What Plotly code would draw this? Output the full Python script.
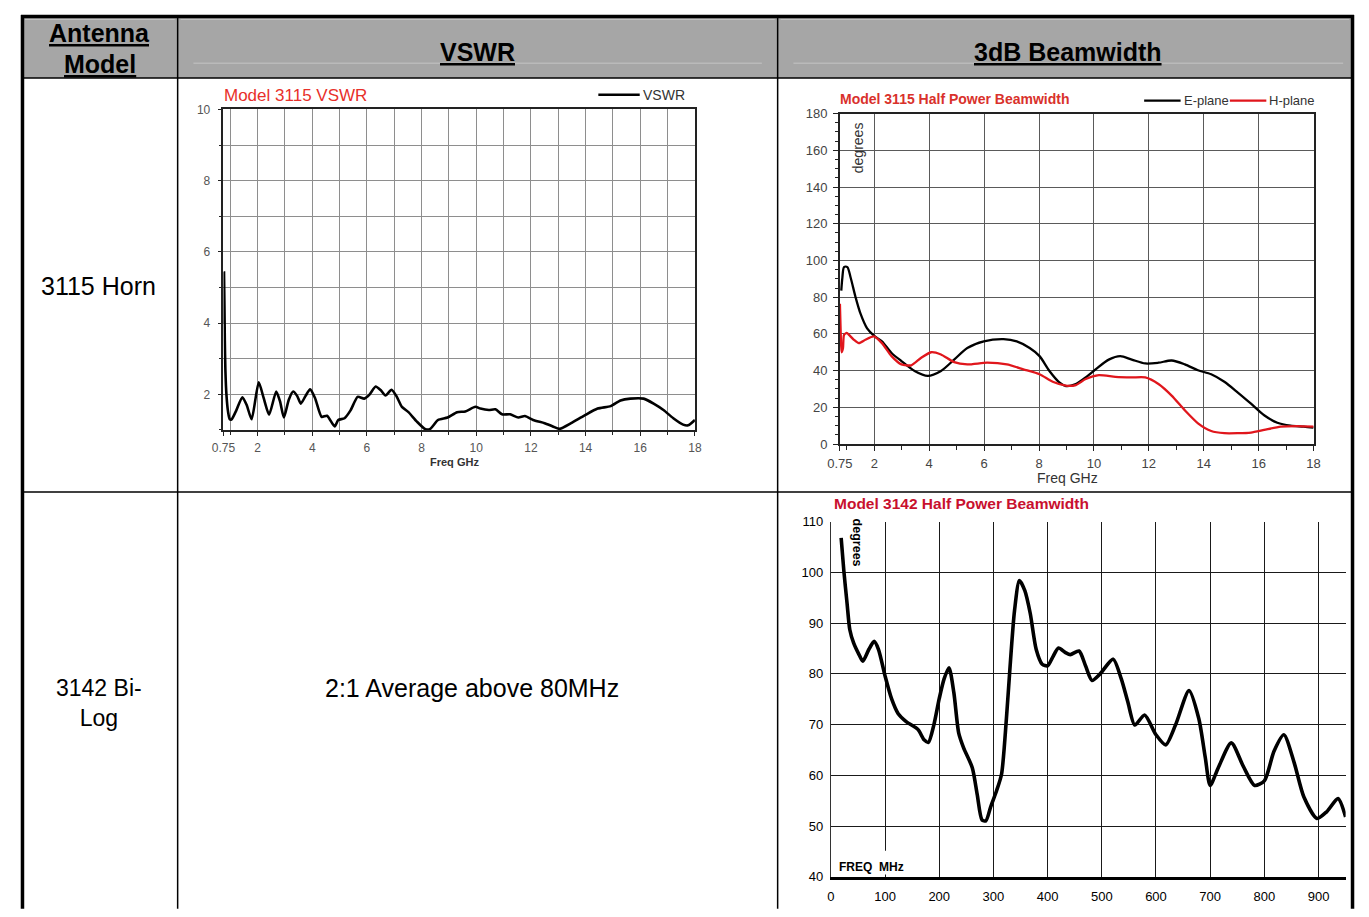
import plotly.graph_objects as go

# page is rendered with the browser's default 8px body margin
OFF = 8
W, H = 1369 - 2 * OFF, 917 - 2 * OFF
FONT = "Liberation Sans, Arial, sans-serif"

def px(x):
    return (x - OFF) / W

def py(y):
    return 1 - (y - OFF) / H

# ---------------- data ----------------
# Model 3115 VSWR
vswr_freq = [0.75, 0.77, 0.80, 0.82, 0.86, 0.92, 0.98, 1.05, 1.22, 1.44, 1.60, 1.78, 2.04, 2.22, 2.42,
             2.68, 2.82, 2.96, 3.14, 3.30, 3.45, 3.58, 3.75, 3.92, 4.10, 4.34, 4.54, 4.82, 4.95, 5.18,
             5.40, 5.66, 5.90, 6.10, 6.32, 6.50, 6.68, 6.90, 7.08, 7.28, 7.52, 7.82, 8.12, 8.30, 8.60,
             8.95, 9.30, 9.60, 9.97, 10.15, 10.46, 10.70, 10.94, 11.24, 11.54, 11.78, 12.08, 12.50,
             12.80, 13.05, 13.47, 13.95, 14.44, 14.92, 15.28, 15.64, 16.12, 16.49, 16.85, 17.21,
             17.57, 17.75, 18.0]
vswr_val = [4.0, 5.42, 3.5, 2.7, 1.98, 1.5, 1.3, 1.3, 1.55, 1.92, 1.7, 1.3, 2.34, 1.9, 1.43,
            2.08, 1.8, 1.35, 1.85, 2.08, 1.95, 1.74, 1.95, 2.14, 1.9, 1.37, 1.4, 1.1, 1.28, 1.33,
            1.55, 1.93, 1.88, 2.0, 2.22, 2.12, 1.97, 2.13, 1.95, 1.65, 1.5, 1.24, 1.03, 1.02, 1.28,
            1.35, 1.5, 1.52, 1.65, 1.6, 1.56, 1.58, 1.44, 1.44, 1.35, 1.39, 1.28, 1.19,
            1.10, 1.03, 1.19, 1.40, 1.6, 1.67, 1.83, 1.88, 1.88, 1.74, 1.56, 1.33,
            1.15, 1.13, 1.28]
vswr_xticks = [0.75, 2, 4, 6, 8, 10, 12, 14, 16, 18]
vswr_xtext = ["0.75", "2", "4", "6", "8", "10", "12", "14", "16", "18"]
vswr_yticks = [2, 4, 6, 8, 10]

# Model 3115 half power beamwidth
e_freq = [0.8, 0.84, 0.9, 1.02, 1.14, 1.32, 1.5, 1.74, 2.0, 2.28, 2.63, 2.99, 3.47, 3.95, 4.43,
          4.91, 5.39, 5.99, 6.71, 7.19, 7.66, 8.02, 8.38, 8.74, 8.98, 9.34, 9.7, 10.06, 10.54,
          10.96, 11.38, 11.87, 12.35, 12.83, 13.31, 13.79, 14.27, 14.75, 15.23, 15.72, 16.2,
          16.68, 17.16, 17.64, 18.0]
e_plane = [83.6, 90.7, 96.4, 96.4, 90.7, 80, 71, 63, 58.9, 55.9, 49.6, 45.2, 39.8, 37.1, 39.8,
           46, 52.3, 55.9, 57.1, 55.9, 52.3, 47.9, 39.8, 33.6, 31.6, 32.7, 36.3, 40.7, 46,
           47.9, 46, 43.9, 44.3, 45.5, 43.4, 40.2, 38, 33.9, 28.2, 22, 15.7,
           11.6, 10, 9.5, 8.9]
h_freq = [0.75, 0.78, 0.81, 0.86, 0.9, 1.0, 1.08, 1.26, 1.44, 1.68, 1.98, 2.28, 2.63, 2.99, 3.35,
          3.71, 4.07, 4.43, 4.91, 5.39, 6.11, 6.83, 7.43, 8.02, 8.5, 8.98, 9.34, 9.7, 10.18,
          10.78, 11.38, 11.87, 12.35, 12.83, 13.31, 13.79, 14.27, 14.75, 15.23, 15.72, 16.2,
          16.8, 17.4, 18.0]
h_plane = [76.4, 60, 50, 52, 59.5, 60.5, 59.5, 56.8, 55, 56.8, 58.6, 55, 47.9, 43.4, 42.9,
           47, 50, 48.8, 44.6, 43.4, 44.3, 43.4, 40.7, 38, 33.9, 31.8, 32.1, 35.4, 37.5,
           36.6, 36.3, 36.3, 32.7, 26.4, 18.4, 11.3, 7.1, 5.9, 5.9, 6.25, 7.7,
           9.5, 9.8, 9.5]
bw1_xticks = [0.75, 2, 4, 6, 8, 10, 12, 14, 16, 18]
bw1_xtext = ["0.75", "2", "4", "6", "8", "10", "12", "14", "16", "18"]

# Model 3142 half power beamwidth
b_freq = [19, 24, 30, 35, 42, 52, 59, 70, 80, 88, 100, 112, 124, 139, 161, 172, 180, 190, 200,
          209, 218, 227, 236, 245, 261, 270, 279, 286, 295, 306, 315, 324, 330, 339, 348, 358,
          368, 379, 390, 400, 409, 420, 433, 442, 458, 470, 482, 497, 521, 536, 548, 561, 579,
          600, 618, 636, 661, 679, 691, 700, 715, 739, 761, 782, 800, 818, 836, 855, 873, 897,
          915, 936, 950]
b_width = [106.8, 100.3, 93.8, 88.7, 86.1, 83.8, 82.5, 84.8, 86.4, 84.8, 79.6, 75.1, 72.2, 70.6,
           69, 67, 66.5, 69.9, 75.1, 79, 81.2, 76.3, 68.3, 65.4, 61.5, 56.3, 51.2, 51, 53.8, 57,
           60.2, 71.2, 80.3, 92.5, 98.4, 96.4, 91.9, 84.8, 81.9, 81.6, 83.2, 85.1, 84.2, 83.8,
           84.5, 81.6, 78.7, 80, 82.9, 79, 74.5, 69.9, 71.9, 68, 66, 69.9, 76.7, 71.2, 63.5, 58,
           61.5, 66.4, 61.8, 58, 58.9, 64.8, 68, 62.5, 55.7, 51.5, 52.8, 55.4, 51.8]
bw2_xticks = [0, 100, 200, 300, 400, 500, 600, 700, 800, 900]
bw2_yticks = [40, 50, 60, 70, 80, 90, 100, 110]

# table text
table_title = "Table 2: Antenna VSWR and 3dB Beamwidth"
header_model = ["Antenna", "Model"]
header_vswr = "VSWR"
header_bw = "3dB Beamwidth"
row1_model = "3115 Horn"
row2_model = ["3142 Bi-", "Log"]
row2_vswr = "2:1 Average above 80MHz"

# ---------------- figure ----------------
fig = go.Figure()
fig.add_trace(go.Scatter(x=vswr_freq, y=vswr_val, mode="lines", name="VSWR",
                         line=dict(color="black", width=2.6, shape="spline", smoothing=0.6),
                         xaxis="x", yaxis="y"))
fig.add_trace(go.Scatter(x=e_freq, y=e_plane, mode="lines", name="E-plane",
                         line=dict(color="black", width=2.3, shape="spline", smoothing=0.8),
                         xaxis="x2", yaxis="y2"))
fig.add_trace(go.Scatter(x=h_freq, y=h_plane, mode="lines", name="H-plane",
                         line=dict(color="#e0161c", width=2.3, shape="spline", smoothing=0.6),
                         xaxis="x2", yaxis="y2"))
fig.add_trace(go.Scatter(x=b_freq, y=b_width, mode="lines", name="3142",
                         line=dict(color="black", width=3.6, shape="spline", smoothing=0.7),
                         xaxis="x3", yaxis="y3"))

GRID1 = "#8e8e8e"
GRID2 = "#5a5a5a"

fig.update_layout(
    width=W, height=H, margin=dict(l=0, r=0, t=0, b=0),
    paper_bgcolor="white", plot_bgcolor="white", showlegend=False,
    font=dict(family=FONT, color="black"),
    xaxis=dict(domain=[px(213.5), px(692)], range=[0.75, 18], anchor="y",
               tickmode="array", tickvals=vswr_xticks, ticktext=vswr_xtext,
               showline=True, linecolor="#222", linewidth=1.5, mirror=True,
               ticks="outside", ticklen=4, tickcolor="#222", tickwidth=1,
               showgrid=True, gridcolor=GRID1, gridwidth=1, zeroline=False,
               minor=dict(dtick=1, tick0=0, showgrid=True, gridcolor=GRID1, gridwidth=1,
                          ticks="outside", ticklen=3, tickcolor="#222"),
               tickfont=dict(size=12, color="#555"), ticklabelstandoff=2),
    yaxis=dict(domain=[py(430), py(104)], range=[1, 10], anchor="x",
               tickmode="array", tickvals=vswr_yticks,
               showline=True, linecolor="#222", linewidth=1.5, mirror=True,
               ticks="outside", ticklen=4, tickcolor="#222",
               showgrid=True, gridcolor=GRID1, gridwidth=1, zeroline=False,
               minor=dict(dtick=1, tick0=0, showgrid=True, gridcolor=GRID1, gridwidth=1,
                          ticks="outside", ticklen=3, tickcolor="#222"),
               tickfont=dict(size=12, color="#555"), ticklabelstandoff=5),
    xaxis2=dict(domain=[px(839.2), px(1320)], range=[0.75, 18], anchor="y2",
                tickmode="array", tickvals=bw1_xticks, ticktext=bw1_xtext,
                showline=True, linecolor="#222", linewidth=1.5, mirror=True,
                ticks="outside", ticklen=5, tickcolor="#222",
                showgrid=True, gridcolor=GRID2, gridwidth=1, zeroline=False,
                minor=dict(dtick=1, tick0=0, showgrid=False, ticks="outside", ticklen=4,
                           tickcolor="#222"),
                tickfont=dict(size=13, color="#444"), ticklabelstandoff=2),
    yaxis2=dict(domain=[py(444.3), py(108.3)], range=[0, 180], anchor="x2",
                dtick=20, tick0=0,
                showline=True, linecolor="#222", linewidth=1.5, mirror=True,
                ticks="outside", ticklen=5, tickcolor="#222",
                showgrid=True, gridcolor=GRID2, gridwidth=1, zeroline=False,
                minor=dict(dtick=5, tick0=0, showgrid=False, ticks="outside", ticklen=3,
                           tickcolor="#222"),
                tickfont=dict(size=13, color="#444"), ticklabelstandoff=3),
    xaxis3=dict(domain=[px(830), px(1352.5)], range=[0, 950], anchor="y3",
                tickmode="array", tickvals=bw2_xticks,
                showline=True, linecolor="black", linewidth=3, mirror=False,
                ticks="", showgrid=True, gridcolor="#1a1a1a", gridwidth=1, zeroline=False,
                tickfont=dict(size=13, color="black"), ticklabelstandoff=6),
    yaxis3=dict(domain=[py(884.3), py(523.3)], range=[40, 110], anchor="x3",
                tickmode="array", tickvals=bw2_yticks,
                showline=True, linecolor="#333", linewidth=1, mirror=False,
                ticks="", showgrid=True, gridcolor="#1a1a1a", gridwidth=1, zeroline=False,
                tickfont=dict(size=13, color="black"), ticklabelstandoff=4),
)

shapes = []
ann = []

def hline(y, x0, x1, color="black", width=1.5):
    shapes.append(dict(type="line", xref="paper", yref="paper", x0=px(x0), x1=px(x1),
                       y0=py(y), y1=py(y), line=dict(color=color, width=width), layer="above"))

def vline(x, y0, y1, color="black", width=1.5):
    shapes.append(dict(type="line", xref="paper", yref="paper", x0=px(x), x1=px(x),
                       y0=py(y0), y1=py(y1), line=dict(color=color, width=width), layer="above"))

def text(x, y, s, size, color="black", bold=False, xanchor="center", yanchor="middle",
         angle=0, family=FONT):
    ann.append(dict(xref="paper", yref="paper", x=px(x), y=py(y), text=(f"<b>{s}</b>" if bold else s),
                    showarrow=False, xanchor=xanchor, yanchor=yanchor, textangle=angle,
                    font=dict(size=size, color=color, family=family)))

RIGHT = 1359.5
# header background
shapes.append(dict(type="rect", xref="paper", yref="paper", x0=px(9), x1=px(RIGHT),
                   y0=py(72), y1=py(9), fillcolor="#a6a6a6", line=dict(width=0), layer="below"))
# faint inner header lines
hline(12.5, 12, 164, color="#c4c4c4", width=1)
hline(12.5, 170, 773, color="#c4c4c4", width=1)
hline(12.5, 779, 1356, color="#c4c4c4", width=1)
hline(57, 183, 760, color="#c4c4c4", width=1)
hline(57, 792, 1350, color="#c4c4c4", width=1)

# white mask behind "FREQ MHz"
shapes.append(dict(type="rect", xref="paper", yref="paper", x0=px(832), x1=px(905),
                   y0=py(882), y1=py(858), fillcolor="white", line=dict(width=0), layer="above"))

# table lines
hline(9.5, 8, 1361, width=3.5)
hline(72, 9, RIGHT, width=1.5)
hline(493, 9, RIGHT, width=1.5)
vline(9.5, 8, 917, width=3.5)
vline(RIGHT, 8, 917, width=3.5)
vline(167, 10, 917, width=1.5)
vline(776, 10, 917, width=1.5)

# legends (manual)
hline(89, 594, 636, color="black", width=2.5)
hline(95, 1148, 1185, color="black", width=2.3)
hline(95, 1235, 1272, color="#e0161c", width=2.3)

fig.update_layout(shapes=shapes)

# table text
text(722, 5, table_title, 26, bold=True, yanchor="bottom")
text(88, 26, f"<u>{header_model[0]}</u>", 25, bold=True)
text(88, 58, f"<u>{header_model[1]}</u>", 25, bold=True)
text(471, 46, f"<u>{header_vswr}</u>", 25, bold=True)
text(1071, 46, f"<u>{header_bw}</u>", 25, bold=True)
text(87, 284, row1_model, 25)
text(87, 708, "<br>".join(row2_model), 23)
text(466, 692, row2_vswr, 25)

# chart 1 labels
text(212, 90, "Model 3115 VSWR", 17, color="#e8302a", xanchor="left")
text(637, 89, "VSWR", 14, color="#333", xanchor="left")
text(448, 463, "Freq GHz", 11, color="#333", bold=True)

# chart 2 labels
text(837, 93, "Model 3115 Half Power Beamwidth", 14, color="#d9312b", bold=True, xanchor="left")
text(1186, 95, "E-plane", 13, color="#333", xanchor="left")
text(1273, 95, "H-plane", 13, color="#333", xanchor="left")
text(857, 143, "degrees", 14, color="#333", angle=-90)
text(1070, 479, "Freq GHz", 14, color="#333")

# chart 3 labels
text(831, 505, "Model 3142 Half Power Beamwidth", 15.5, color="#c8102e", bold=True, xanchor="left")
text(856, 545, "degrees", 12.5, color="black", bold=True, angle=90)
text(836, 874, "FREQ  MHz", 12, color="black", bold=True, xanchor="left")

fig.update_layout(annotations=ann)

fig.write_html("out.html", config={"displayModeBar": False})
